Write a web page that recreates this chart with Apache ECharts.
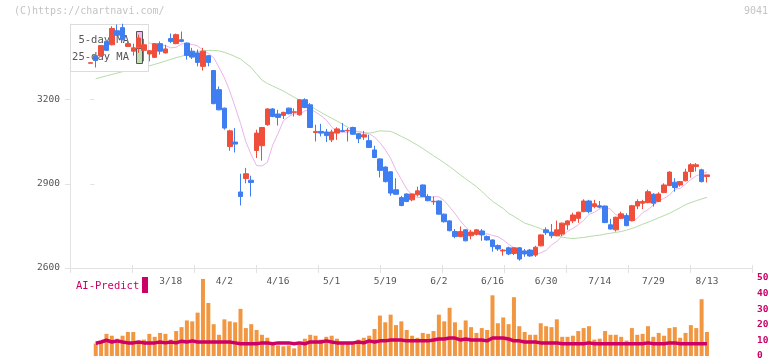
<!DOCTYPE html>
<html><head><meta charset="utf-8">
<script src="https://cdn.jsdelivr.net/npm/echarts@6/dist/echarts.min.js"></script>
<style>html,body{margin:0;padding:0;background:#fff}#c{width:772px;height:361px}</style>
</head><body><div id="c"></div>
<script>
// ---- DATA ----
const opens  = [3330,3357,3357,3408,3396,3446,3457,3390,3373,3385,3376,3363,3351,3400,3367,3418,3400,3414,3402,3373,3367,3319,3357,3304,3236,3170,3033,3049,2871,2919,2913,3019,3036,3111,3167,3149,3144,3170,3155,3146,3200,3182,3083,3087,3085,3057,3081,3090,3089,3101,3079,3067,3054,3021,2989,2960,2943,2879,2851,2864,2843,2861,2896,2855,2836,2839,2792,2768,2730,2712,2736,2715,2720,2732,2712,2700,2680,2661,2672,2652,2672,2661,2664,2646,2679,2736,2728,2715,2721,2754,2768,2777,2801,2839,2819,2822,2821,2754,2736,2777,2787,2769,2821,2831,2833,2863,2837,2869,2894,2906,2896,2911,2944,2962,2950,2926];
const closes = [3332,3340,3393,3376,3454,3430,3414,3400,3385,3420,3396,3375,3400,3373,3381,3408,3432,3408,3358,3352,3333,3373,3333,3186,3164,3099,3089,3042,2855,2936,2905,3081,3101,3167,3140,3137,3155,3150,3157,3200,3172,3101,3087,3081,3072,3085,3096,3087,3091,3077,3061,3075,3030,2994,2948,2908,2867,2863,2823,2837,2864,2875,2855,2840,2838,2792,2765,2733,2712,2730,2697,2728,2736,2718,2700,2676,2668,2664,2650,2672,2632,2650,2643,2674,2718,2726,2715,2736,2760,2768,2789,2799,2839,2801,2829,2817,2762,2739,2781,2793,2751,2822,2837,2837,2872,2831,2864,2896,2942,2887,2908,2942,2968,2968,2908,2932];
const lows   = [3330,3315,3355,3374,3394,3428,3412,3388,3357,3367,3337,3337,3349,3361,3365,3402,3398,3405,3343,3345,3319,3304,3319,3184,3162,3093,3018,3012,2823,2902,2855,2992,2983,3107,3138,3108,3131,3148,3140,3143,3170,3099,3051,3069,3049,3049,3057,3084,3051,3075,3045,3057,3028,2992,2923,2905,2858,2861,2820,2835,2838,2855,2853,2838,2825,2790,2762,2731,2706,2710,2695,2702,2716,2697,2698,2658,2661,2644,2646,2646,2626,2640,2640,2640,2677,2718,2706,2713,2714,2736,2760,2761,2799,2795,2813,2813,2760,2737,2730,2774,2749,2767,2810,2810,2831,2819,2835,2867,2892,2872,2890,2909,2922,2944,2905,2905];
const highs  = [3332,3359,3395,3410,3462,3468,3471,3414,3400,3432,3417,3377,3402,3408,3396,3436,3436,3443,3404,3385,3379,3385,3359,3306,3247,3172,3093,3099,2936,2957,2929,3093,3103,3170,3170,3164,3157,3172,3169,3201,3205,3188,3111,3114,3096,3093,3102,3117,3099,3104,3081,3089,3075,3036,2991,2962,2945,2920,2857,2866,2866,2890,2898,2863,2855,2841,2794,2770,2739,2748,2739,2736,2739,2739,2716,2702,2684,2668,2676,2673,2674,2668,2668,2679,2720,2745,2757,2769,2762,2770,2797,2801,2845,2843,2843,2839,2823,2775,2783,2801,2795,2825,2845,2843,2879,2867,2870,2902,2945,2920,2910,2954,2974,2974,2954,2932];
const ma5    = [null,3300,3310,3330,3350,3370,3399,3413,3415,3417,3410,3403,3395,3395,3393,3385,3387,3399,3400,3397,3392,3377,3365,3350,3315,3278,3231,3174,3116,3050,3004,2965,2964,2976,3038,3079,3125,3140,3150,3148,3160,3167,3156,3143,3128,3103,3085,3084,3084,3086,3087,3082,3078,3067,3047,3022,2991,2949,2916,2882,2860,2851,2852,2851,2854,2854,2840,2818,2794,2768,2746,2727,2720,2721,2722,2716,2712,2700,2685,2672,2666,2657,2654,2649,2654,2663,2682,2695,2714,2731,2741,2754,2770,2791,2799,2811,2817,2810,2790,2786,2778,2765,2777,2797,2808,2824,2840,2848,2860,2881,2884,2899,2915,2929,2935,2942];
const ma25   = [null,3275,3280,3285,3290,3295,3300,3304,3309,3313,3317,3321,3326,3332,3338,3344,3350,3355,3361,3368,3372,3375,3376,3376,3374,3369,3362,3354,3345,3330,3315,3292,3270,3258,3249,3240,3231,3220,3209,3199,3189,3178,3166,3155,3144,3134,3124,3113,3102,3092,3085,3083,3081,3084,3089,3088,3087,3079,3069,3060,3049,3038,3026,3013,3000,2988,2975,2962,2947,2932,2918,2904,2890,2873,2855,2838,2825,2812,2795,2784,2772,2760,2754,2747,2740,2733,2725,2716,2710,2707,2705,2707,2709,2712,2715,2717,2721,2724,2727,2730,2735,2741,2748,2756,2763,2771,2779,2787,2795,2805,2815,2826,2833,2840,2846,2852];
const volume = [null,8.0,9.5,14.2,13.0,11.1,13.0,15.4,15.4,8.6,10.5,14.2,12.3,14.8,14.2,10.5,16.0,18.5,22.8,22.2,27.8,49.4,34.0,20.4,13.6,23.5,22.2,21.6,30.2,17.9,20.4,16.7,13.6,11.7,8.0,6.8,6.2,6.8,4.9,8.0,11.1,13.6,13.0,10.5,12.3,13.0,11.1,8.6,8.6,8.6,10.5,11.7,13.0,17.3,25.9,21.6,26.5,19.8,22.2,16.7,13.0,11.7,14.8,14.2,16.0,26.5,22.2,30.9,21.6,16.7,22.8,18.5,14.8,17.9,16.7,38.9,21.0,24.7,20.4,37.7,19.1,15.4,13.6,13.6,21.0,19.1,18.5,23.5,12.3,12.3,13.0,16.0,17.9,19.1,10.5,11.1,16.0,13.6,13.6,12.3,9.9,17.9,13.6,14.2,19.1,12.3,14.8,13.0,17.9,18.5,11.7,14.8,19.8,17.9,36.4,15.4];
const predict = [null,8.2,9.0,10.1,9.0,9.7,9.0,8.4,8.4,9.0,8.4,8.4,8.4,9.0,8.4,9.0,8.4,9.5,9.0,9.7,9.0,9.0,9.0,9.0,9.0,9.0,9.0,8.4,7.8,7.8,7.8,7.8,8.4,8.4,7.8,8.4,8.4,8.4,7.8,8.4,7.8,9.0,9.0,9.0,9.7,9.0,8.4,8.4,8.4,8.4,9.0,8.4,9.7,9.0,9.7,9.7,10.3,10.3,10.3,9.7,9.7,9.7,9.7,9.7,10.3,10.9,10.9,11.5,11.5,10.3,10.9,10.3,10.3,10.3,9.7,11.5,11.5,11.5,10.9,9.7,9.7,9.0,9.0,9.0,8.4,8.4,8.4,8.4,7.8,7.8,7.8,7.8,7.8,8.4,7.8,7.8,7.8,7.8,7.8,7.8,7.8,7.8,7.8,7.8,8.4,7.8,7.8,7.8,8.4,8.4,7.8,7.8,7.8,7.8,7.8,7.8];
const labelIdx  = [15,25,35,45,55,65,75,85,95,105,115];
const labelText = ['3/18','4/2','4/16','5/1','5/19','6/2','6/16','6/30','7/14','7/29','8/13'];
const priceTicks = [2600,2900,3200];

// ---- CHART ----
const X_MIN = -3.8, X_MAX = 123.4;
const RED = '#f04e3c', BLUE = '#3f7ef0', AXIS = '#e2e2e2';
const MONO = '"DejaVu Sans Mono", monospace';
const candleData = opens.map((o,i)=>[i,o,closes[i],lows[i],highs[i]]);
const pairs = arr => arr.map((v,i)=>[i,v]);
const lblMap = {}; labelIdx.forEach((k,j)=>lblMap[k]=labelText[j]);

const chart = echarts.init(document.getElementById('c'), null, {renderer:'canvas'});
chart.setOption({
  animation:false,
  backgroundColor:'#fff',
  grid:[
    {left:70, top:24, width:682, height:244},
    {left:70, top:278, width:682, height:80}
  ],
  xAxis:[
    {type:'value', gridIndex:0, min:0, max:11, interval:1, position:'bottom',
     axisLine:{show:true, lineStyle:{color:AXIS}}, axisTick:{show:true, length:5, lineStyle:{color:AXIS}},
     axisLabel:{show:false}, splitLine:{show:false}},
    {type:'value', gridIndex:0, min:X_MIN, max:X_MAX, position:'bottom',
     axisLine:{show:false}, axisTick:{show:false}, splitLine:{show:false},
     axisLabel:{show:true, customValues:labelIdx, formatter:v=>lblMap[Math.round(v)]||'', margin:9,
       color:'#555', fontSize:9.5, fontFamily:MONO}},
    {type:'value', gridIndex:0, min:0, max:11, interval:1, position:'bottom',
     axisLine:{show:false}, axisTick:{show:true, inside:true, length:3, lineStyle:{color:AXIS}},
     axisLabel:{show:false}, splitLine:{show:false}},
    {type:'value', gridIndex:1, min:X_MIN, max:X_MAX, show:false}
  ],
  yAxis:[
    {type:'value', gridIndex:0, min:2600, max:3470, position:'left',
     axisLine:{show:true, lineStyle:{color:AXIS}},
     axisTick:{show:true, length:5, customValues:priceTicks, lineStyle:{color:AXIS}},
     axisLabel:{show:true, customValues:priceTicks, formatter:v=>String(v), margin:10, color:'#555', fontSize:9.5, fontFamily:MONO},
     splitLine:{show:false}},
    {type:'value', gridIndex:0, min:2600, max:3470, position:'left',
     axisLine:{show:false}, axisTick:{show:true, inside:true, length:4, customValues:priceTicks, lineStyle:{color:AXIS}},
     axisLabel:{show:false}, splitLine:{show:false}},
    {type:'value', gridIndex:1, min:0, max:50, interval:10, position:'right',
     axisLine:{show:false}, axisTick:{show:false}, splitLine:{show:false},
     axisLabel:{show:true, margin:5, color:'#cc0066', fontSize:9.5, fontWeight:'bold', fontFamily:MONO}}
  ],
  graphic:[
    {type:'text', left:14, top:6, z:20, style:{text:'(C)https://chartnavi.com/', font:'10px '+MONO, fill:'#c4c4c4'}},
    {type:'text', right:4, top:6, z:20, style:{text:'9041', font:'10px '+MONO, fill:'#c4c4c4'}},
    {type:'rect', z:5, shape:{x:70.5, y:24.5, width:78, height:47}, style:{fill:'#fff', stroke:'#dcdcdc', lineWidth:1}},
    {type:'text', z:6, x:129, y:40, style:{text:'5-day MA', font:'10.5px '+MONO, fill:'#555', align:'right', verticalAlign:'middle'}},
    {type:'text', z:6, x:129, y:57, style:{text:'25-day MA', font:'10.5px '+MONO, fill:'#555', align:'right', verticalAlign:'middle'}},
    {type:'rect', z:6, shape:{x:136.5, y:31.5, width:6, height:15}, style:{fill:'#eebcee', stroke:'#555', lineWidth:1}},
    {type:'rect', z:6, shape:{x:136.5, y:48.5, width:6, height:15}, style:{fill:'#bfe0b2', stroke:'#555', lineWidth:1}},
    {type:'text', z:20, x:76, y:286, style:{text:'AI-Predict', font:'10.5px '+MONO, fill:'#cc0066', verticalAlign:'middle'}},
    {type:'rect', z:20, shape:{x:142, y:277, width:6, height:16}, style:{fill:'#cc0066'}}
  ],
  series:[
    {type:'line', name:'25-day MA', xAxisIndex:1, yAxisIndex:0, data:pairs(ma25), showSymbol:false, z:2,
     lineStyle:{color:'#b6dcaa', width:1}, silent:true},
    {type:'line', name:'5-day MA', xAxisIndex:1, yAxisIndex:0, data:pairs(ma5), showSymbol:false, z:2,
     lineStyle:{color:'#eab4ec', width:1}, silent:true},
    {type:'candlestick', xAxisIndex:1, yAxisIndex:0, data:candleData, barWidth:5, z:10, clip:false,
     itemStyle:{color:RED, color0:BLUE, borderColor:RED, borderColor0:BLUE, borderWidth:1}},
    {type:'bar', xAxisIndex:3, yAxisIndex:2, data:pairs(volume), barWidth:4, itemStyle:{color:'#f29741'}, z:2},
    {type:'line', xAxisIndex:3, yAxisIndex:2, data:pairs(predict), showSymbol:false, z:5,
     lineStyle:{color:'#cc0066', width:3.5}}
  ]
});
</script></body></html>
